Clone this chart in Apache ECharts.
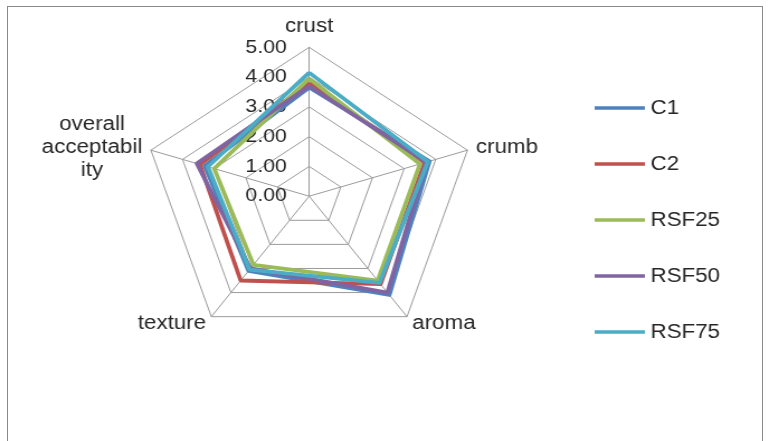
<!DOCTYPE html>
<html>
<head>
<meta charset="utf-8">
<script src="https://cdn.jsdelivr.net/npm/echarts@6/dist/echarts.min.js"></script>
<style>
  html, body { margin: 0; padding: 0; background: #ffffff; overflow: hidden; }
  #frame { position: absolute; left: 7px; top: 6px; width: 756px; height: 450px; border: 1px solid #8a8a8a; box-sizing: border-box; }
  /* the chart is laid out narrower and widened horizontally */
  #chart { position: absolute; left: 0; top: 0; width: 688px; height: 441px; transform: scaleX(1.1177); transform-origin: 0 0; }
</style>
</head>
<body>
<div id="frame"></div>
<div id="chart"></div>
<script>
// Sensory attributes, listed clockwise from the top
const categories = ['crust', 'crumb', 'aroma', 'texture', 'overall acceptability'];
const axisLabels = ['crust', 'crumb', 'aroma', 'texture', 'overall\nacceptabil\nity'];
const tickLabels = ['0.00', '1.00', '2.00', '3.00', '4.00', '5.00'];

// Mean scores per formulation, same order as categories
const C1    = [3.65, 3.80, 4.10, 3.10, 3.30];
const C2    = [3.80, 3.65, 3.65, 3.50, 3.45];
const RSF25 = [3.95, 3.50, 3.50, 2.85, 3.00];
const RSF50 = [3.70, 3.70, 4.00, 3.00, 3.55];
const RSF75 = [4.15, 3.75, 3.60, 3.05, 3.20];

const seriesNames = ['C1', 'C2', 'RSF25', 'RSF50', 'RSF75'];
const seriesData = [C1, C2, RSF25, RSF50, RSF75];
const colors = ['#4F81BD', '#C0504D', '#9BBB59', '#8064A2', '#4BACC6'];

// ECharts places radar indicators counter-clockwise; reorder so they run clockwise
const order = [0, 4, 3, 2, 1];

const font = '"Liberation Sans", Arial, sans-serif';

const indicator = order.map(function (i, k) {
  const ind = { name: axisLabels[i], min: 0, max: 5 };
  if (k === 0) {
    ind.axisLabel = {
      show: true,
      fontSize: 19,
      fontFamily: font,
      color: '#262626',
      margin: 20,
      formatter: function (v) { return tickLabels[Math.round(v)]; }
    };
  }
  return ind;
});

const chart = echarts.init(document.getElementById('chart'), null, { renderer: 'canvas' });
chart.setOption({
  animation: false,
  color: colors,
  legend: {
    orient: 'vertical',
    left: 532,
    top: 98,
    padding: 0,
    itemWidth: 45,
    itemHeight: 3.5,
    itemGap: 36,
    icon: 'rect',
    textStyle: { fontSize: 20, fontFamily: font, color: '#262626', lineHeight: 20, padding: [0, 0, 0, 0] },
    data: seriesNames
  },
  radar: {
    center: [276.6, 196.2],
    radius: 148.9,
    startAngle: 90,
    splitNumber: 5,
    shape: 'polygon',
    indicator: indicator,
    axisName: {
      color: '#262626',
      fontSize: 20,
      fontFamily: font,
      lineHeight: 23,
      // each wrapped line is centred within its block
      formatter: function (name) {
        return name.split('\n').map(function (line) { return '{c|' + line + '}'; }).join('\n');
      },
      rich: {
        c: { align: 'center', color: '#262626', fontSize: 20, fontFamily: font, lineHeight: 23 }
      }
    },
    nameGap: 8,
    axisLine: { lineStyle: { color: '#9a9a9a', width: 1 } },
    splitLine: { lineStyle: { color: '#9a9a9a', width: 1 } },
    splitArea: { show: false },
    axisTick: { show: false }
  },
  series: [{
    type: 'radar',
    symbol: 'none',
    data: seriesData.map(function (vals, s) {
      return {
        name: seriesNames[s],
        value: order.map(function (i) { return vals[i]; }),
        lineStyle: { width: 3.8, color: colors[s] },
        itemStyle: { color: colors[s] }
      };
    })
  }]
});
</script>
</body>
</html>
